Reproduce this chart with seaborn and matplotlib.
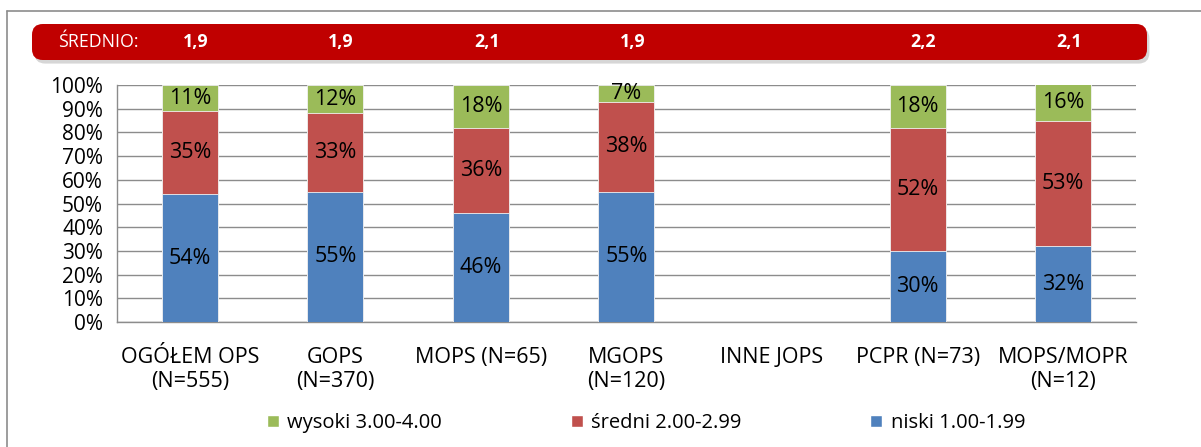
import numpy as np
import pandas as pd
import matplotlib
matplotlib.use("Agg")
import matplotlib.pyplot as plt
import seaborn as sns
from matplotlib.patches import FancyBboxPatch, Patch
from matplotlib.lines import Line2D
from matplotlib.ticker import PercentFormatter

# -----------------------------
# Data
# -----------------------------
categories = ["OGÓŁEM OPS\n(N=555)", "GOPS\n(N=370)", "MOPS (N=65)", "MGOPS\n(N=120)",
              "INNE JOPS", "PCPR (N=73)", "MOPS/MOPR\n(N=12)"]
niski = [54, 55, 46, 55, np.nan, 30, 32]
sredni = [35, 33, 36, 38, np.nan, 52, 53]
wysoki = [11, 12, 18, 7, np.nan, 18, 16]
srednio = ["1,9", "1,9", "2,1", "1,9", "", "2,2", "2,1"]

series_names = ["wysoki 3.00-4.00", "średni 2.00-2.99", "niski 1.00-1.99"]
c_blue, c_red, c_green = "#4F81BD", "#C0504D", "#9BBB59"

df = pd.DataFrame({"cat": categories, "niski": niski, "sredni": sredni, "wysoki": wysoki})
df["cum2"] = df["niski"] + df["sredni"]
df["cum3"] = df["cum2"] + df["wysoki"]

# -----------------------------
# Figure
# -----------------------------
sns.set_style("white")
plt.rcParams["font.family"] = ["Open Sans", "DejaVu Sans"]
plt.rcParams["text.color"] = "black"
plt.rcParams["xtick.labelcolor"] = "black"
plt.rcParams["ytick.labelcolor"] = "black"

fig = plt.figure(figsize=(12.01, 4.47), dpi=100)
ax = fig.add_axes([0.0974, 0.2796, 0.8484, 0.5302])

bw = 0.385
for col, c in [("cum3", c_green), ("cum2", c_red), ("niski", c_blue)]:
    sns.barplot(data=df, x="cat", y=col, order=categories, color=c, width=bw,
                saturation=1, ax=ax, zorder=3, edgecolor="#F2F2F2", linewidth=0.6)

# segment labels
fs_lab = 15.5
for i in range(len(categories)):
    if np.isnan(niski[i]):
        continue
    ax.text(i, niski[i] / 2, f"{niski[i]:.0f}%", ha="center", va="center", fontsize=fs_lab, zorder=4)
    ax.text(i, niski[i] + sredni[i] / 2, f"{sredni[i]:.0f}%", ha="center", va="center",
            fontsize=fs_lab, zorder=4)
    top = min(niski[i] + sredni[i] + wysoki[i], 100)
    ax.text(i, (niski[i] + sredni[i] + top) / 2, f"{wysoki[i]:.0f}%", ha="center",
            va="center", fontsize=fs_lab, zorder=4)

ax.set_xlim(-0.5, len(categories) - 0.5)
ax.set_ylim(0, 100)
ax.set_yticks(np.arange(0, 101, 10))
ax.yaxis.set_major_formatter(PercentFormatter(decimals=0))
ax.set_xlabel("")
ax.set_ylabel("")
ax.grid(axis="y", color="#8C8C8C", linewidth=1, zorder=0)
ax.set_axisbelow(True)
for s in ["top", "right"]:
    ax.spines[s].set_visible(False)
for s in ["left", "bottom"]:
    ax.spines[s].set_color("#8C8C8C")
    ax.spines[s].set_linewidth(1)

# category ticks at boundaries, labels centred
ax.set_xticks(np.arange(-0.5, len(categories), 1.0))
ax.set_xticklabels([])
ax.set_xticks(np.arange(len(categories)), minor=True)
ax.set_xticklabels(categories, minor=True, fontsize=15.5, linespacing=1.2)
ax.tick_params(axis="x", which="major", length=6, color="#8C8C8C", direction="out")
ax.tick_params(axis="x", which="minor", length=0, pad=18, labelcolor="black")
ax.tick_params(axis="y", length=6, color="#8C8C8C", labelsize=15, pad=4, labelcolor="black")

# -----------------------------
# Outer frame and red banner
# -----------------------------
fig.add_artist(Line2D([7 / 1201, 1], [1 - 11 / 447, 1 - 11 / 447], color="#8C8C8C", lw=1.2))
fig.add_artist(Line2D([7 / 1201, 7 / 1201], [0, 1 - 11 / 447], color="#8C8C8C", lw=1.2))

bx0, bx1 = 32 / 1201, 1147 / 1201
by0, by1 = 1 - 60 / 447, 1 - 24 / 447
shadow = FancyBboxPatch((bx0 + 0.002, by0 - 0.008), bx1 - bx0, by1 - by0,
                        boxstyle="round,pad=0,rounding_size=0.009",
                        transform=fig.transFigure, facecolor="#BBBBBB", edgecolor="none",
                        alpha=0.6, mutation_aspect=1201 / 447)
banner = FancyBboxPatch((bx0, by0), bx1 - bx0, by1 - by0,
                        boxstyle="round,pad=0,rounding_size=0.009",
                        transform=fig.transFigure, facecolor="#C00000", edgecolor="none",
                        mutation_aspect=1201 / 447)
fig.add_artist(shadow)
fig.add_artist(banner)

ymid = (by0 + by1) / 2
fig.text(58 / 1201, ymid, "ŚREDNIO:", color="white", fontsize=12.8, ha="left", va="center")
trans = matplotlib.transforms.blended_transform_factory(ax.transData, fig.transFigure)
for i, v in enumerate(srednio):
    if v:
        fig.text(i + 0.04, ymid, v, transform=trans, color="white", fontsize=12.8,
                 fontweight="bold", ha="center", va="center")

# -----------------------------
# Legend
# -----------------------------
handles = [Patch(facecolor=c_green), Patch(facecolor=c_red), Patch(facecolor=c_blue)]
fig.legend(handles, series_names, loc="center", bbox_to_anchor=(0.538, 1 - 423 / 447),
           ncol=3, frameon=False, fontsize=14.5, handlelength=0.6, handleheight=0.6,
           handletextpad=0.4, columnspacing=6.4, labelcolor="black")

plt.savefig("out.png", dpi=100)
plt.close()
